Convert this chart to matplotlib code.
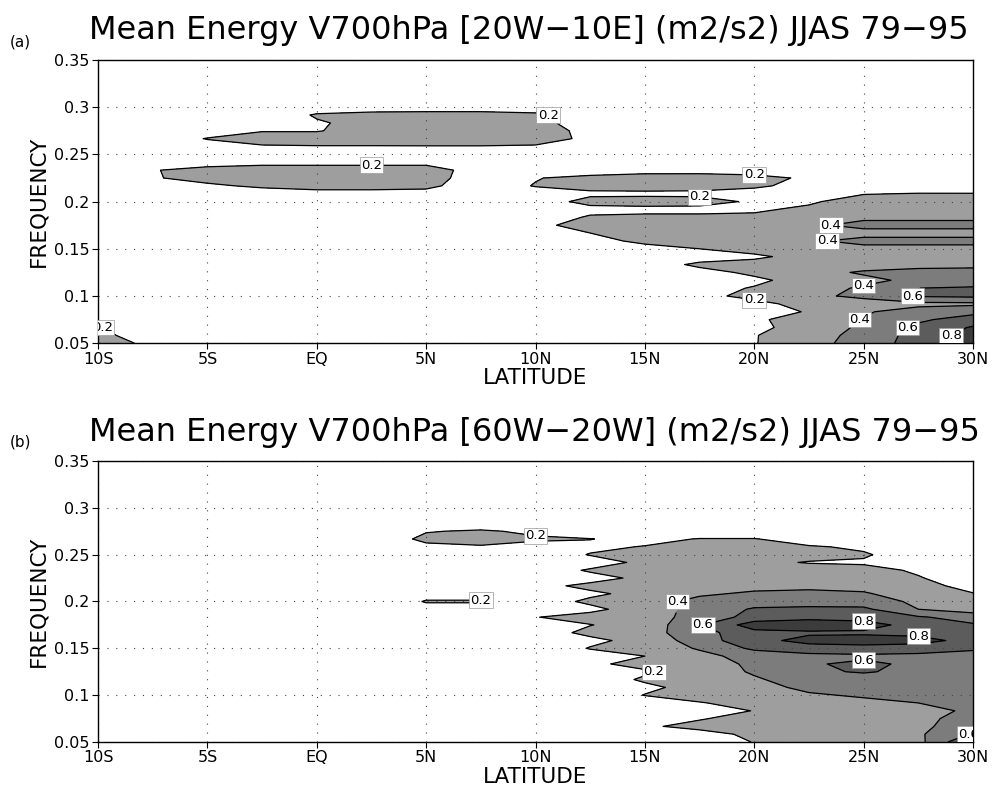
import numpy as np
import matplotlib
matplotlib.use("Agg")
import matplotlib.pyplot as plt

# ---------------- data ----------------
latitude = [-10, -7.5, -5, -2.5, 0, 2.5, 5, 7.5, 10, 12.5, 15, 17.5, 20, 22.5, 25, 27.5, 30]
# frequency rows, top (0.35) to bottom (0.05)
frequency = [0.35, 0.3417, 0.3333, 0.325, 0.3167, 0.3083, 0.30, 0.2917, 0.2833, 0.275,
             0.2667, 0.2583, 0.25, 0.2417, 0.2333, 0.225, 0.2167, 0.2083, 0.20, 0.1917,
             0.1833, 0.175, 0.1667, 0.1583, 0.15, 0.1417, 0.1333, 0.125, 0.1167, 0.1083,
             0.10, 0.0917, 0.0833, 0.075, 0.0667, 0.0583, 0.05]

# mean energy in hundredths of m2/s2, panel (a) 20W-10E
energy_a_hundredths = [
    [5, 5, 5, 5, 5, 5, 5, 5, 5, 5, 5, 5, 5, 5, 5, 5, 5],
    [5, 5, 5, 5, 5, 5, 5, 5, 5, 5, 5, 5, 5, 5, 5, 5, 5],
    [5, 5, 5, 5, 5, 5, 5, 5, 5, 5, 5, 5, 5, 5, 5, 5, 5],
    [5, 5, 5, 5, 5, 5, 5, 5, 5, 5, 5, 5, 5, 5, 5, 5, 5],
    [5, 5, 5, 5, 5, 5, 5, 5, 5, 5, 5, 5, 5, 5, 5, 5, 5],
    [5, 5, 5, 5, 6, 7, 7, 7, 7, 5, 5, 5, 5, 5, 5, 5, 5],
    [5, 5, 5, 5, 10, 12, 12, 12, 12, 6, 5, 5, 5, 5, 5, 5, 5],
    [5, 5, 5, 6, 22, 25, 26, 26, 23, 10, 5, 5, 5, 5, 5, 5, 5],
    [5, 5, 8, 12, 18, 26, 28, 28, 25, 12, 5, 5, 5, 5, 5, 5, 5],
    [5, 5, 10, 19, 19, 27, 30, 30, 28, 15, 5, 5, 5, 5, 5, 5, 5],
    [5, 8, 21, 28, 28, 28, 30, 30, 28, 16, 5, 5, 5, 5, 5, 5, 5],
    [5, 5, 12, 18, 19, 19, 19, 19, 18, 10, 5, 5, 5, 5, 5, 5, 5],
    [5, 5, 8, 10, 10, 10, 10, 10, 8, 6, 5, 5, 5, 5, 5, 5, 5],
    [5, 8, 12, 15, 15, 15, 15, 14, 8, 8, 8, 8, 8, 5, 5, 5, 5],
    [5, 19, 26, 28, 28, 28, 28, 12, 8, 8, 14, 15, 14, 8, 5, 5, 5],
    [5, 19, 24, 28, 28, 28, 28, 10, 19, 26, 27, 26, 24, 18, 8, 6, 5],
    [5, 10, 18, 22, 26, 26, 24, 10, 21, 25, 26, 25, 22, 16, 8, 6, 5],
    [5, 6, 10, 14, 14, 14, 14, 10, 12, 17, 17, 17, 15, 12, 19, 21, 21],
    [5, 5, 8, 10, 10, 10, 10, 8, 12, 25, 26, 25, 18, 17, 30, 32, 32],
    [5, 5, 5, 5, 5, 5, 5, 5, 8, 15, 16, 16, 17, 24, 32, 34, 34],
    [5, 5, 5, 5, 5, 5, 5, 5, 10, 22, 23, 23, 24, 28, 36, 36, 36],
    [5, 5, 5, 5, 5, 5, 5, 5, 15, 28, 27, 27, 28, 36, 46, 46, 46],
    [5, 5, 5, 5, 5, 5, 5, 5, 8, 20, 26, 27, 28, 30, 33, 33, 33],
    [5, 5, 5, 5, 5, 5, 5, 5, 6, 14, 24, 26, 28, 37, 46, 46, 46],
    [5, 5, 5, 5, 5, 5, 5, 5, 5, 8, 14, 20, 26, 30, 34, 34, 34],
    [5, 5, 5, 5, 5, 5, 5, 5, 5, 6, 10, 13, 17, 26, 30, 32, 33],
    [5, 5, 5, 5, 5, 5, 5, 5, 5, 6, 12, 23, 26, 28, 32, 36, 37],
    [5, 5, 5, 5, 5, 5, 5, 5, 5, 5, 9, 15, 23, 34, 42, 44, 44],
    [5, 5, 5, 5, 5, 5, 5, 5, 5, 5, 8, 12, 17, 26, 36, 44, 50],
    [5, 5, 5, 5, 5, 5, 5, 5, 5, 5, 8, 15, 21, 34, 42, 60, 62],
    [5, 5, 5, 5, 5, 5, 5, 5, 5, 6, 12, 16, 24, 36, 44, 62, 64],
    [5, 5, 5, 5, 5, 5, 5, 5, 5, 5, 6, 10, 16, 25, 32, 35, 36],
    [5, 5, 5, 5, 5, 5, 5, 5, 5, 5, 6, 10, 14, 21, 38, 48, 55],
    [12, 6, 5, 5, 5, 5, 5, 5, 5, 5, 6, 10, 17, 28, 41, 57, 68],
    [21, 9, 5, 5, 5, 5, 5, 5, 5, 5, 6, 10, 16, 27, 44, 64, 82],
    [24, 12, 5, 5, 5, 5, 5, 5, 5, 5, 6, 12, 19, 32, 46, 68, 88],
    [26, 17, 5, 5, 5, 5, 5, 5, 5, 5, 6, 12, 19, 34, 47, 70, 90],
]

# mean energy in hundredths of m2/s2, panel (b) 60W-20W
energy_b_hundredths = [
    [5, 5, 5, 5, 5, 5, 5, 5, 5, 5, 5, 5, 5, 5, 5, 5, 5],
    [5, 5, 5, 5, 5, 5, 5, 5, 5, 5, 5, 5, 5, 5, 5, 5, 5],
    [5, 5, 5, 5, 5, 5, 5, 5, 5, 5, 5, 5, 5, 5, 5, 5, 5],
    [5, 5, 5, 5, 5, 5, 5, 5, 5, 5, 5, 5, 5, 5, 5, 5, 5],
    [5, 5, 5, 5, 5, 5, 5, 5, 5, 5, 5, 5, 5, 5, 5, 5, 5],
    [5, 5, 5, 5, 5, 5, 5, 5, 5, 5, 5, 5, 5, 5, 5, 5, 5],
    [5, 5, 5, 5, 5, 5, 5, 5, 5, 5, 5, 5, 5, 5, 5, 5, 5],
    [5, 5, 5, 5, 5, 5, 5, 5, 5, 5, 5, 5, 5, 5, 5, 5, 5],
    [5, 5, 5, 5, 5, 5, 8, 10, 8, 5, 5, 5, 5, 5, 5, 5, 5],
    [5, 5, 5, 5, 5, 5, 19, 22, 17, 10, 5, 5, 5, 5, 5, 5, 5],
    [5, 5, 5, 5, 5, 8, 24, 28, 22, 20.5, 14, 21, 21, 10, 5, 5, 5],
    [5, 5, 5, 5, 5, 5, 16, 18, 15, 16, 21, 23, 23, 22, 17, 8, 5],
    [5, 5, 5, 5, 5, 5, 8, 8, 8, 21, 26, 27, 27, 26, 22, 10, 5],
    [5, 5, 5, 5, 5, 5, 5, 5, 6, 12, 24, 27, 24, 19, 18, 12, 5],
    [5, 5, 5, 5, 5, 5, 5, 5, 10, 22, 27, 30, 30, 28, 25, 18, 8],
    [5, 5, 5, 5, 5, 5, 5, 5, 8, 14, 24, 32, 32, 30, 28, 21, 12],
    [5, 5, 5, 5, 5, 5, 5, 5, 15, 24, 30, 34, 36, 36, 34, 24, 16],
    [5, 5, 5, 5, 5, 5, 15, 15, 8, 17, 25, 38, 42, 44, 42, 30, 20.5],
    [5, 5, 5, 5, 5, 8, 21, 21, 12, 23, 34, 44, 52, 52, 50, 36, 26],
    [5, 5, 5, 5, 5, 6, 15, 15, 10, 16, 28, 48, 62, 64, 64, 40, 30],
    [5, 5, 5, 5, 5, 5, 6, 8, 19.5, 26, 33, 46, 68, 74, 72, 62, 52],
    [5, 5, 5, 5, 5, 5, 5, 6, 14, 19.5, 27, 58, 90, 92, 88, 72, 62],
    [5, 5, 5, 5, 5, 5, 5, 5, 12, 24, 32, 52, 74, 77, 77, 75, 66],
    [5, 5, 5, 5, 5, 5, 5, 5, 8, 16, 26, 50, 74, 86, 88, 86, 74],
    [5, 5, 5, 5, 5, 5, 5, 5, 8, 21, 27, 42, 64, 72, 74, 72, 64],
    [5, 5, 5, 5, 5, 5, 5, 5, 5, 12, 20, 34, 48, 54, 56, 54, 50],
    [5, 5, 5, 5, 5, 5, 5, 5, 5, 17, 25, 30, 44, 58, 64, 56, 48],
    [5, 5, 5, 5, 5, 5, 5, 5, 5, 10, 18, 30, 42, 56, 62, 54, 48],
    [5, 5, 5, 5, 5, 5, 5, 5, 5, 12, 22, 30, 38, 48, 50, 48, 46],
    [5, 5, 5, 5, 5, 5, 5, 5, 5, 8, 17, 25, 34, 44, 46, 46, 44],
    [5, 5, 5, 5, 5, 5, 5, 5, 5, 10, 20.5, 27, 32, 38, 42, 44, 44],
    [5, 5, 5, 5, 5, 5, 5, 5, 5, 6, 12, 19, 26, 32, 36, 40, 44],
    [5, 5, 5, 5, 5, 5, 5, 5, 5, 5, 8, 13, 20.5, 27, 32, 36, 42],
    [5, 5, 5, 5, 5, 5, 5, 5, 5, 5, 10, 19, 25, 30, 34, 36, 46],
    [5, 5, 5, 5, 5, 5, 5, 5, 5, 8, 18, 24, 26, 30, 34, 36, 50],
    [5, 5, 5, 5, 5, 5, 5, 5, 5, 5, 8, 15, 23, 28, 32, 37, 62],
    [5, 5, 5, 5, 5, 5, 5, 5, 5, 5, 8, 12, 20.5, 28, 32, 34, 82],
]

lat_ticks = [-10, -5, 0, 5, 10, 15, 20, 25, 30]
lat_tick_labels = ["10S", "5S", "EQ", "5N", "10N", "15N", "20N", "25N", "30N"]
freq_ticks = [0.05, 0.1, 0.15, 0.2, 0.25, 0.3, 0.35]
freq_tick_labels = ["0.05", "0.1", "0.15", "0.2", "0.25", "0.3", "0.35"]
contour_levels = [0.2, 0.4, 0.6, 0.8]
panel_tags = ["(a)", "(b)"]
panel_titles = ["Mean Energy V700hPa [20W\u221210E] (m2/s2) JJAS 79\u221295",
                "Mean Energy V700hPa [60W\u221220W] (m2/s2) JJAS 79\u221295"]

# ---------------- drawing ----------------
plt.rcParams["font.family"] = ["DejaVu Sans"]
fill_colors = ["white", "#9e9e9e", "#7c7c7c", "#5c5c5c", "#3c3c3c"]

fig = plt.figure(figsize=(9.93, 8.0), dpi=100)
axes_rects = [[0.0987, 0.571, 0.8812, 0.354], [0.0987, 0.0725, 0.8812, 0.3513]]
title_y = [0.9625, 0.46]
tag_y = [0.947, 0.447]

lat = np.array(latitude)
freq = np.array(frequency)[::-1]
grids = [np.array(energy_a_hundredths, dtype=float)[::-1] / 100.0,
         np.array(energy_b_hundredths, dtype=float)[::-1] / 100.0]

for i in range(2):
    ax = fig.add_axes(axes_rects[i])
    z = grids[i]
    ax.contourf(lat, freq, z, levels=[-1.0] + contour_levels + [10.0], colors=fill_colors)
    cs = ax.contour(lat, freq, z, levels=contour_levels, colors="black", linewidths=0.9)
    labels = ax.clabel(cs, fmt="%.1f", fontsize=9.5, inline=True, inline_spacing=1)
    for t in labels:
        t.set_rotation(0)
        t.set_bbox(dict(boxstyle="square,pad=0.1", fc="white", ec="#999999", lw=0.5))
    ax.set_xlim(-10, 30)
    ax.set_ylim(0.05, 0.35)
    ax.set_xticks(lat_ticks)
    ax.set_xticklabels(lat_tick_labels)
    ax.set_yticks(freq_ticks)
    ax.set_yticklabels(freq_tick_labels)
    ax.tick_params(direction="out", length=4, width=0.8, labelsize=11.5, pad=2)
    ax.grid(True, color="#444444", linestyle=(0, (1, 7)), linewidth=0.8)
    for s in ax.spines.values():
        s.set_linewidth(1.0)
    ax.set_xlabel("LATITUDE", fontsize=15.5, labelpad=1)
    ax.set_ylabel("FREQUENCY", fontsize=15.5, labelpad=4)
    fig.text(0.09, title_y[i], panel_titles[i], fontsize=23, ha="left", va="center")
    fig.text(0.01, tag_y[i], panel_tags[i], fontsize=11, ha="left", va="center")

fig.savefig("out.png", dpi=100)
